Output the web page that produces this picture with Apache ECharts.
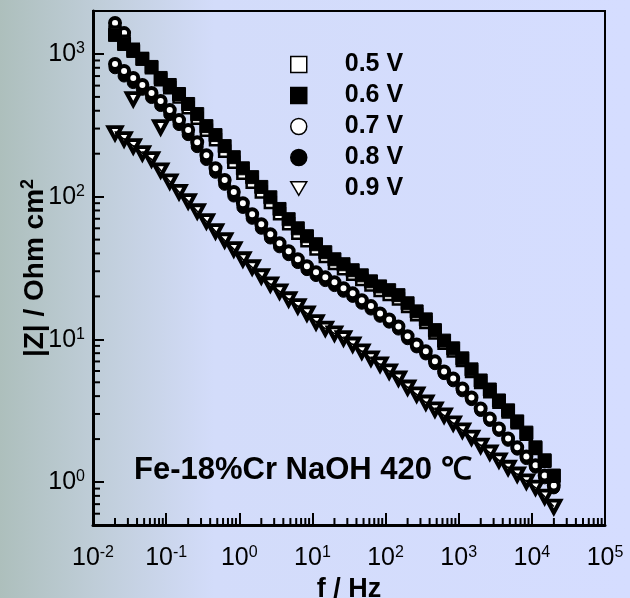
<!DOCTYPE html>
<html><head><meta charset="utf-8">
<script src="https://cdn.jsdelivr.net/npm/echarts@6/dist/echarts.min.js"></script>
<style>html,body{margin:0;padding:0;}#c{width:630px;height:598px;}</style>
</head><body><div id="c"></div>
<script>
// ---- data ----
const freq = [0.02, 0.0266, 0.0355, 0.0473, 0.0631, 0.0841, 0.112, 0.150, 0.2, 0.266, 0.355, 0.473, 0.631, 0.841, 1.12, 1.50, 2.0, 2.66, 3.55, 4.73, 6.31, 8.41, 11.2, 15.0, 20, 26.6, 35.5, 47.3, 63.1, 84.1, 112, 150, 200, 266, 355, 473, 631, 841, 1122, 1496, 1995, 2661, 3548, 4732, 6310, 8414, 11220, 14962, 19953];
const z05 = [1420,1230,1080,930,800,660,580,500,420,355,292,250,208,174,146,126,108,91,76,64.5,55.5,49,43,38,34,31.3,28.6,26.3,24,22,20.6,19.2,17,14.9,13.1,11.1,9.4,8.3,7.1,5.95,4.98,4.3,3.62,3.1,2.6,2.16,1.72,1.4,1.1];
const z06 = [1360,1175,1050,923,811,679,606,524,446,379,312,270,226,189,158,137,117,99,82,69.5,60,52.8,46.4,40.8,36.4,33.6,30.5,28.1,25.5,23.5,22.1,20.4,17.9,15.7,13.8,11.6,9.8,8.65,7.36,6.16,5.15,4.45,3.73,3.18,2.66,2.22,1.75,1.42,1.11];
const z07 = [851,760,679,606,532,468,404,344,293,241,195,158,131,108,90,75.3,64.1,54.5,47.2,41.5,36.4,32.5,29.5,27.2,25.1,22.8,21.0,18.8,17.1,15.2,13.8,12.3,10.5,9.22,8.24,7.01,5.96,5.32,4.53,3.92,3.28,2.79,2.37,2.02,1.75,1.51,1.31,1.11,0.945];
const z08 = [800,700,630,565,495,435,376,320,272,224,182,148,122,101,84,70.5,60,51.3,44.5,39.2,34.5,30.8,28,25.8,23.8,21.7,20,17.9,16.3,14.5,13.2,11.8,10.1,8.85,7.9,6.75,5.75,5.12,4.36,3.78,3.17,2.7,2.3,1.96,1.7,1.46,1.27,1.07,0.91];
const z09 = [279,253,226,202,183,153,128,108,93,79,67.3,57.3,49.5,42.9,36.4,32,27.7,24.3,21.7,19.1,17.1,15.2,13.2,11.9,11.0,10.2,9.2,8.24,7.36,6.68,5.96,5.32,4.6,4.11,3.61,3.23,2.93,2.58,2.3,2.05,1.8,1.61,1.42,1.26,1.13,1.01,0.915,0.79,0.673];
// isolated low-frequency points
const z07ExtraF = [0.02, 0.0266];
const z07ExtraZ = [1650, 1400];
const z09ExtraF = [0.0355, 0.0841];
const z09ExtraZ = [483, 307];
const seriesNames = ['0.5 V', '0.6 V', '0.7 V', '0.8 V', '0.9 V'];
const xName = 'f / Hz';
const yNameMain = '|Z| / Ohm cm';
const yNameSup = '2';
const annotation = 'Fe-18%Cr NaOH 420 \u2103';
const X_MIN = 0.01, X_MAX = 100000, Y_MIN = 0.5, Y_MAX = 2000;

// ---- helpers ----
const FONT = "'Liberation Sans', Arial, Helvetica, sans-serif";
const DOWN_TRI = 'path://M0,0L20,0L10,17Z';
const pairs = (fs, zs) => fs.map((f, i) => [f, zs[i]]);
function powLabel(v) {
  const lg = Math.log10(v);
  const e = Math.round(lg);
  if (Math.abs(lg - e) > 1e-6) return '';
  return '{b|10}{s|' + e + '}';
}
const labelRich = {
  b: {fontSize: 25, fontFamily: FONT, color: '#000', verticalAlign: 'bottom'},
  s: {fontSize: 16, fontFamily: FONT, color: '#000', verticalAlign: 'bottom', padding: [0, 0, 10, 0]}
};
const xMinor = [];
for (let n = -2; n < 5; n++) for (let m = 2; m <= 9; m++) xMinor.push(m * Math.pow(10, n));
const yMinor = [];
for (let n = -1; n < 4; n++) for (let m = 2; m <= 9; m++) {
  const v = m * Math.pow(10, n);
  if (v > Y_MIN * 1.0001 && v < Y_MAX * 0.9999) yMinor.push(v);
}
const openStyle = w => ({color: '#fff', borderColor: '#000', borderWidth: w, opacity: 1});
const fillStyle = {color: '#000', borderColor: '#000', borderWidth: 1, opacity: 1};

const chart = echarts.init(document.getElementById('c'), null, {renderer: 'canvas'});
const annotationGraphic = {id: 'anno', type: 'text', left: 134, top: 455, z: 100,
  style: {text: annotation, fontSize: 31, fontWeight: 'bold', fontFamily: FONT, fill: '#000'}};
chart.setOption({
  animation: false,
  backgroundColor: {type: 'linear', x: 0, y: 0, x2: 1, y2: 0,
    colorStops: [{offset: 0, color: '#adbfbc'}, {offset: 0.15, color: '#bfcdd8'}, {offset: 0.34, color: '#d3dcfa'}, {offset: 1, color: '#d5ddff'}]},
  grid: {left: 93, top: 11, width: 512, height: 514, show: true, borderColor: '#000', borderWidth: 2,
    backgroundColor: 'transparent', containLabel: false, outerBoundsMode: 'none'},
  legend: {
    data: seriesNames, orient: 'vertical', left: 290, top: 52, padding: 0,
    itemWidth: 16, itemHeight: 16, itemGap: 6, selectedMode: false,
    itemStyle: {borderWidth: 1.5},
    formatter: n => '{g|\u00a0}' + n,
    textStyle: {fontSize: 25, fontWeight: 'bold', color: '#000', fontFamily: FONT, lineHeight: 22,
      rich: {g: {width: 33, fontSize: 10}}}
  },
  xAxis: {
    type: 'log', logBase: 10, min: X_MIN, max: X_MAX, interval: 1, splitNumber: 7,
    name: xName, nameLocation: 'middle', nameGap: 47,
    nameTextStyle: {fontSize: 27, fontWeight: 'bold', color: '#000', fontFamily: FONT},
    axisLine: {show: true, lineStyle: {color: '#000', width: 3}},
    axisTick: {show: true, inside: true, length: 12, lineStyle: {color: '#000', width: 2}},
    axisLabel: {margin: 20, formatter: powLabel, rich: labelRich},
    splitLine: {show: false}
  },
  yAxis: {
    type: 'log', logBase: 10, min: Y_MIN, max: Y_MAX,
    name: '{n|' + yNameMain + '}{p|' + yNameSup + '}', nameLocation: 'middle', nameGap: 44,
    nameMoveOverlap: false,
    nameTextStyle: {fontSize: 28, fontWeight: 'bold', color: '#000', fontFamily: FONT,
      rich: {n: {fontSize: 28, fontWeight: 'bold', fontFamily: FONT, color: '#000', verticalAlign: 'bottom'},
             p: {fontSize: 18, fontWeight: 'bold', fontFamily: FONT, color: '#000', verticalAlign: 'bottom', padding: [0, 0, 12, 0]}}},
    axisLine: {show: true, lineStyle: {color: '#000', width: 3}},
    axisTick: {show: true, inside: true, length: 11, lineStyle: {color: '#000', width: 2}},
    axisLabel: {margin: 8, formatter: powLabel, rich: labelRich},
    splitLine: {show: false}
  },
  graphic: {elements: [annotationGraphic]},
  series: [
    {name: '0.9 V', type: 'scatter', symbol: DOWN_TRI, symbolSize: [13, 12],
      itemStyle: openStyle(4), data: pairs(freq, z09).concat(pairs(z09ExtraF, z09ExtraZ))},
    {name: 'fit09', type: 'line', symbol: 'none', silent: true, lineStyle: {color: '#000', width: 1.5},
      data: pairs(freq, z09)},
    {name: '0.8 V', type: 'scatter', symbol: 'circle', symbolSize: 12, itemStyle: fillStyle, data: pairs(freq, z08)},
    {name: '0.7 V', type: 'scatter', symbol: 'circle', symbolSize: 10, itemStyle: openStyle(4),
      data: pairs(freq, z07).concat(pairs(z07ExtraF, z07ExtraZ))},
    {name: '0.5 V', type: 'scatter', symbol: 'rect', symbolSize: 11, itemStyle: openStyle(2.5), data: pairs(freq, z05)},
    {name: '0.6 V', type: 'scatter', symbol: 'rect', symbolSize: 13, itemStyle: fillStyle, data: pairs(freq, z06)}
  ]
});

// minor (log) ticks, positioned through the chart's own axis scales
const tickEls = [annotationGraphic];
xMinor.forEach((v, i) => {
  const p = chart.convertToPixel({gridIndex: 0}, [v, Y_MIN]);
  tickEls.push({id: 'xm' + i, type: 'line', z: 50, silent: true,
    shape: {x1: p[0], y1: p[1], x2: p[0], y2: p[1] - 7}, style: {stroke: '#000', lineWidth: 2}});
});
yMinor.forEach((v, i) => {
  const p = chart.convertToPixel({gridIndex: 0}, [X_MIN, v]);
  tickEls.push({id: 'ym' + i, type: 'line', z: 50, silent: true,
    shape: {x1: p[0], y1: p[1], x2: p[0] + 7, y2: p[1]}, style: {stroke: '#000', lineWidth: 2}});
});
chart.setOption({graphic: {elements: tickEls}});
</script></body></html>
